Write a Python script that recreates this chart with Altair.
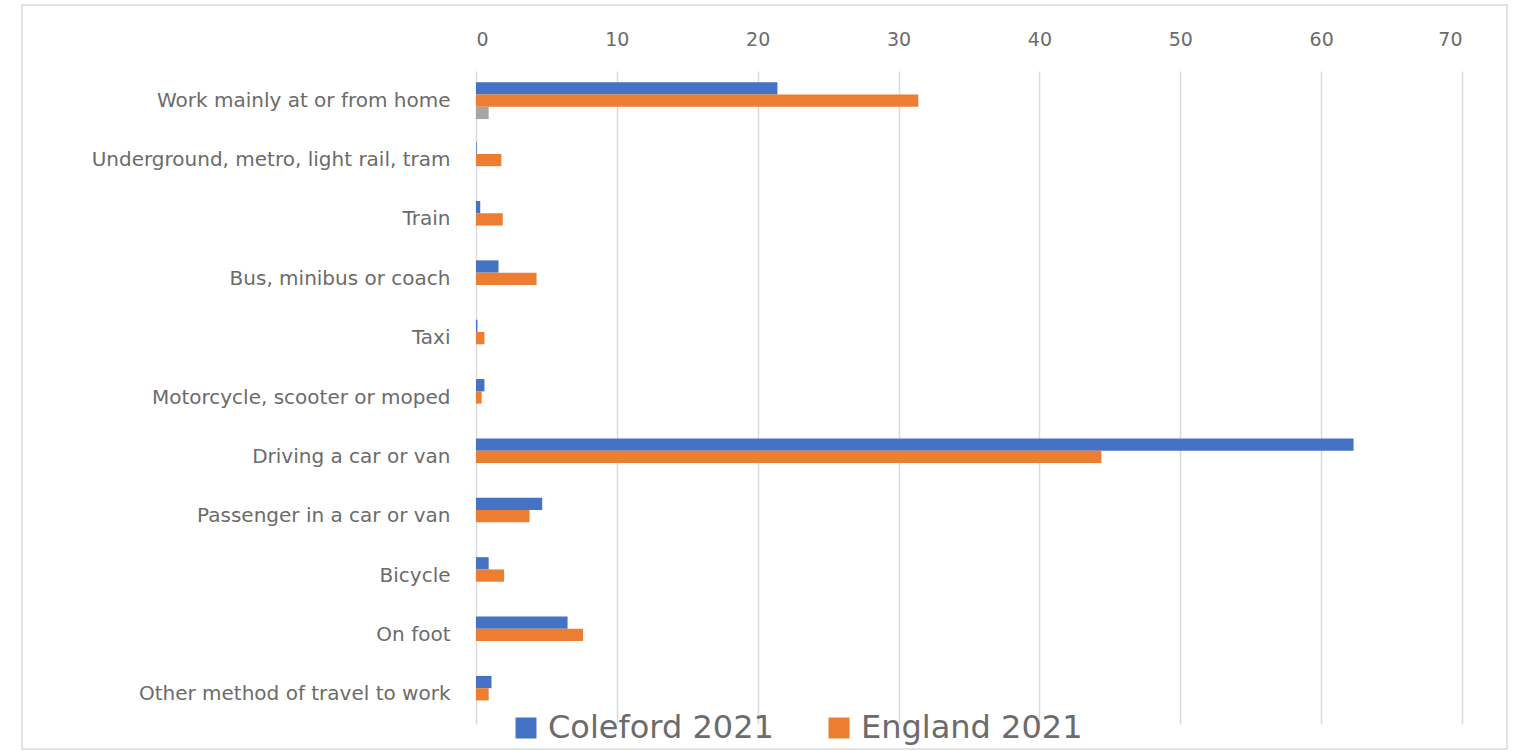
import altair as alt
import pandas as pd

categories = [
    "Work mainly at or from home",
    "Underground, metro, light rail, tram",
    "Train",
    "Bus, minibus or coach",
    "Taxi",
    "Motorcycle, scooter or moped",
    "Driving a car or van",
    "Passenger in a car or van",
    "Bicycle",
    "On foot",
    "Other method of travel to work",
]
coleford_2021 = [21.4, 0.05, 0.3, 1.6, 0.1, 0.6, 62.3, 4.7, 0.9, 6.5, 1.1]
england_2021 = [31.4, 1.8, 1.9, 4.3, 0.6, 0.4, 44.4, 3.8, 2.0, 7.6, 0.9]
series_3 = [0.9, 0, 0, 0, 0, 0, 0, 0, 0, 0, 0]

series_names = ["Coleford 2021", "England 2021", "Series 3"]
series_colors = ["#4472C4", "#ED7D31", "#A5A5A5"]

rows = []
for i, c in enumerate(categories):
    for name, vals in zip(series_names, [coleford_2021, england_2021, series_3]):
        rows.append({"category": c, "series": name, "value": vals[i]})
df = pd.DataFrame(rows)

FONT = "DejaVu Sans"
W, H = 986, 653

bars = alt.Chart(df).mark_bar().encode(
    y=alt.Y("category:N", sort=categories, title=None,
            scale=alt.Scale(paddingInner=0.38, paddingOuter=0.19),
            axis=alt.Axis(ticks=False, domain=False, labelFontSize=20,
                          labelColor="#6b6b6b", labelFont=FONT, labelPadding=26,
                          labelLimit=600)),
    yOffset=alt.YOffset("series:N", sort=series_names),
    x=alt.X("value:Q", title=None,
            scale=alt.Scale(domain=[0, 70], nice=False),
            axis=alt.Axis(orient="top", values=[0, 10, 20, 30, 40, 50, 60, 70],
                          ticks=False, domain=False, labelFontSize=19,
                          labelColor="#6b6b6b", labelFont=FONT, labelPadding=22,
                          gridColor="#dcdcdc", gridWidth=1.5)),
    color=alt.Color("series:N",
                    scale=alt.Scale(domain=series_names, range=series_colors),
                    legend=alt.Legend(values=["Coleford 2021", "England 2021"],
                                      orient="none", legendX=34, legendY=641,
                                      direction="horizontal", title=None,
                                      symbolType="square", symbolSize=441,
                                      symbolStrokeWidth=0, labelLimit=400,
                                      labelFontSize=32, labelFont=FONT,
                                      labelColor="#6b6b6b", columnPadding=49,
                                      labelOffset=6)),
)

frame = alt.Chart(pd.DataFrame({"a": [0]})).mark_rect(
    fill=None, stroke="#d9d9d9", strokeWidth=1.5
).encode(x=alt.value(-454), x2=alt.value(1031), y=alt.value(-66), y2=alt.value(678))

chart = alt.layer(frame, bars).properties(
    width=W, height=H,
    background="white",
    autosize=alt.AutoSizeParams(type="none"),
    padding={"left": 476, "top": 71, "right": 51, "bottom": 27},
).configure_view(stroke="transparent", strokeWidth=0)

chart.save("out.html", embed_options={"renderer": "svg", "actions": False})
